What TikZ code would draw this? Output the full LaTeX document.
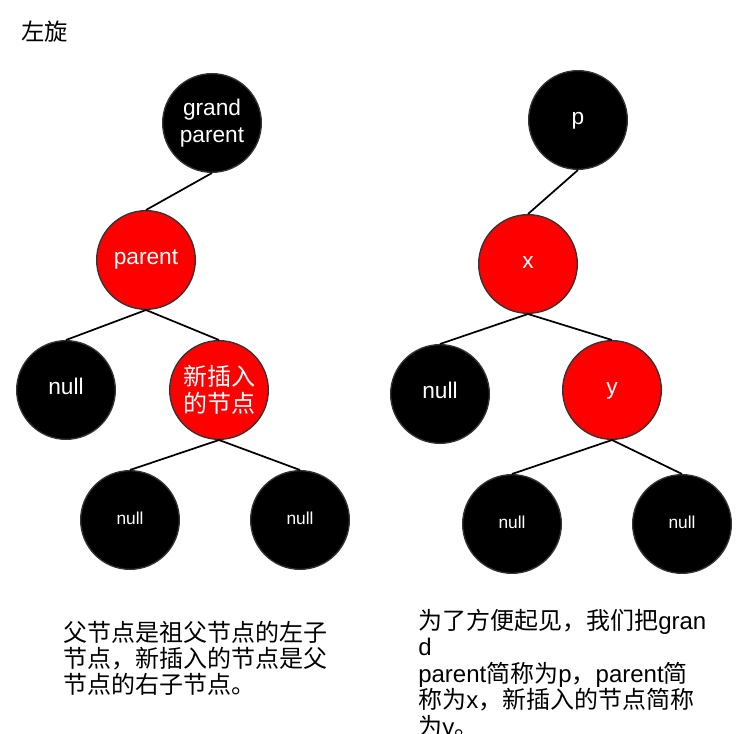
\documentclass[tikz,border=0pt]{standalone}
\usepackage{fontspec}
\setmainfont{Liberation Sans}
\newfontfamily\cjk{Noto Sans CJK SC}
\definecolor{rbred}{HTML}{FF0000}
\definecolor{rbedge}{HTML}{333333}

\begin{document}
\begin{tikzpicture}[x=0.75pt,y=-0.75pt,
  rbnode/.style={circle, draw=rbedge, line width=1pt, minimum size=74pt, inner sep=0pt,
    text=white, align=center, font=\fontsize{17}{20}\selectfont},
  oneline/.style={text height=0.9em, text depth=0.2em},
  blacknode/.style={rbnode, oneline, fill=black},
  rednode/.style={rbnode, oneline, fill=rbred},
  leafnode/.style={blacknode, font=\fontsize{13}{15}\selectfont},
  link/.style={line width=1.3pt, black},
  note/.style={anchor=base west, inner sep=0pt, align=left, font=\fontsize{18}{19.8}\selectfont}]
% Fix the canvas to the reference size
\useasboundingbox (0,0) rectangle (751,734);
\clip (0,0) rectangle (751,734);

% Title
\node[anchor=base west, inner sep=0pt, font=\cjk\fontsize{17.5}{20}\selectfont] (title) at (21,41) {左旋};

% Left tree: before the rotation
\node[rbnode, fill=black] (lgrand) at (212,123) {grand\\parent};
\node[rednode] (lparent) at (146,260) {parent};
\node[blacknode] (lnull) at (66,390) {null};
\node[rbnode, fill=rbred, font=\cjk\fontsize{18}{20}\selectfont] (lnew) at (219,390) {新插入\\的节点};
\node[leafnode] (lnullleft) at (130,520) {null};
\node[leafnode] (lnullright) at (300,520) {null};

% Left tree edges
\draw[link] (lgrand.south) -- (lparent.north);
\draw[link] (lparent.south) -- (lnull.north);
\draw[link] (lparent.south) -- (lnew.north);
\draw[link] (lnew.south) -- (lnullleft.north);
\draw[link] (lnew.south) -- (lnullright.north);

% Right tree: the short names
\node[blacknode] (rp) at (578,120) {p};
\node[rednode] (rx) at (528,264) {x};
\node[blacknode] (rnull) at (440,394) {null};
\node[rednode] (ry) at (612,390) {y};
\node[leafnode] (rnullleft) at (512,524) {null};
\node[leafnode] (rnullright) at (682,524) {null};

% Right tree edges
\draw[link] (rp.south) -- (rx.north);
\draw[link] (rx.south) -- (rnull.north);
\draw[link] (rx.south) -- (ry.north);
\draw[link] (ry.south) -- (rnullleft.north);
\draw[link] (ry.south) -- (rnullright.north);

% Notes under the trees (base = last line)
\node[note] (lnote) at (63,694) {{\cjk 父节点是祖父节点的左子}\\{\cjk 节点，新插入的节点是父}\\{\cjk 节点的右子节点。}};
\node[note] (rnote) at (418,735) {{\cjk 为了方便起见，我们把}gran\\d\\parent{\cjk 简称为}p{\cjk ，}parent{\cjk 简}\\{\cjk 称为}x{\cjk ，新插入的节点简称}\\{\cjk 为}y{\cjk 。}};
\end{tikzpicture}
\end{document}
